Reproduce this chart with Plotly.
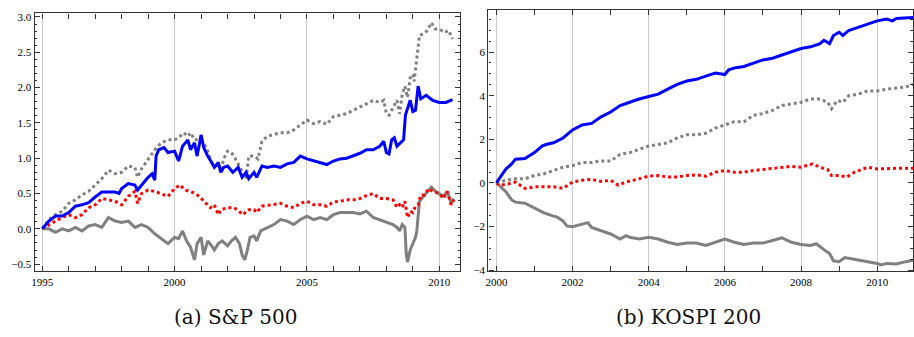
import plotly.graph_objects as go

# ---------------- S&P 500 (panel a) ----------------
sp_blue_x = [1995.0,1995.25,1995.5,1995.75,1996.0,1996.25,1996.5,1996.75,1997.0,1997.25,1997.5,1997.75,1997.9,1998.0,1998.25,1998.5,1998.6,1998.75,1999.0,1999.15,1999.25,1999.3,1999.4,1999.6,1999.75,2000.0,2000.15,2000.3,2000.5,2000.6,2000.75,2000.85,2001.0,2001.1,2001.25,2001.4,2001.5,2001.65,2001.75,2001.85,2002.0,2002.2,2002.4,2002.55,2002.7,2002.8,2003.0,2003.1,2003.3,2003.5,2003.75,2004.0,2004.25,2004.5,2004.75,2005.0,2005.25,2005.5,2005.75,2006.0,2006.25,2006.5,2006.75,2007.0,2007.25,2007.5,2007.75,2007.9,2008.0,2008.1,2008.2,2008.3,2008.4,2008.5,2008.65,2008.72,2008.8,2008.9,2009.0,2009.1,2009.2,2009.3,2009.5,2009.75,2010.0,2010.25,2010.5]
sp_blue_y = [0,0.11,0.18,0.18,0.23,0.32,0.34,0.37,0.45,0.52,0.52,0.52,0.50,0.57,0.64,0.62,0.55,0.62,0.73,0.78,0.69,1.03,1.12,1.15,1.08,1.10,0.96,1.17,1.26,1.12,1.22,1.03,1.33,1.15,1.03,0.94,0.87,0.94,0.80,0.87,0.89,0.80,0.87,0.73,0.80,0.71,0.80,0.73,0.89,0.87,0.89,0.87,0.92,0.94,1.03,0.99,0.96,0.94,0.91,0.96,0.99,1.00,1.03,1.07,1.12,1.12,1.17,1.24,1.08,1.06,1.26,1.29,1.17,1.21,1.26,1.61,1.70,1.82,1.66,1.68,2.02,1.84,1.89,1.82,1.79,1.79,1.83]

sp_gdot_x = [1995.0,1995.25,1995.5,1995.75,1996.0,1996.25,1996.5,1996.75,1997.0,1997.25,1997.5,1997.75,1998.0,1998.25,1998.5,1998.6,1998.75,1999.0,1999.25,1999.5,1999.75,2000.0,2000.15,2000.35,2000.5,2000.6,2000.75,2001.0,2001.2,2001.4,2001.6,2001.75,2001.85,2002.0,2002.15,2002.3,2002.5,2002.7,2002.8,2003.0,2003.15,2003.3,2003.5,2003.75,2004.0,2004.25,2004.5,2004.75,2005.0,2005.25,2005.5,2005.75,2006.0,2006.25,2006.5,2006.75,2007.0,2007.25,2007.5,2007.75,2007.9,2008.0,2008.1,2008.25,2008.4,2008.5,2008.6,2008.7,2008.8,2008.9,2009.0,2009.05,2009.15,2009.25,2009.4,2009.55,2009.7,2009.85,2010.0,2010.2,2010.35,2010.5]
sp_gdot_y = [0,0.13,0.20,0.25,0.36,0.41,0.48,0.53,0.62,0.71,0.83,0.78,0.80,0.89,0.87,0.73,0.85,0.99,1.12,1.22,1.26,1.26,1.29,1.36,1.31,1.36,1.26,1.26,1.15,0.94,0.89,0.80,0.99,1.10,1.08,0.99,0.85,0.71,1.03,1.03,0.99,1.24,1.31,1.33,1.36,1.36,1.40,1.47,1.54,1.49,1.52,1.48,1.59,1.61,1.63,1.68,1.72,1.77,1.82,1.79,1.82,1.63,1.61,1.72,1.82,1.63,1.91,2.02,1.86,2.14,2.19,2.09,2.46,2.74,2.76,2.81,2.92,2.83,2.83,2.78,2.81,2.69]

sp_red_x = [1995.0,1995.25,1995.5,1995.75,1996.0,1996.25,1996.5,1996.75,1997.0,1997.25,1997.5,1997.75,1998.0,1998.25,1998.5,1998.6,1998.75,1999.0,1999.25,1999.5,1999.75,2000.0,2000.2,2000.4,2000.6,2000.8,2001.0,2001.2,2001.35,2001.5,2001.65,2001.75,2002.0,2002.25,2002.5,2002.6,2002.7,2002.8,2003.0,2003.1,2003.3,2003.5,2003.75,2004.0,2004.25,2004.5,2004.75,2005.0,2005.25,2005.5,2005.75,2006.0,2006.25,2006.5,2006.75,2007.0,2007.25,2007.5,2007.75,2008.0,2008.25,2008.4,2008.5,2008.6,2008.7,2008.8,2008.9,2009.0,2009.1,2009.2,2009.3,2009.45,2009.6,2009.75,2010.0,2010.15,2010.3,2010.45,2010.55]
sp_red_y = [0,0.06,0.11,0.16,0.20,0.16,0.20,0.30,0.34,0.43,0.41,0.39,0.34,0.46,0.53,0.36,0.50,0.55,0.53,0.50,0.46,0.57,0.62,0.55,0.53,0.50,0.43,0.36,0.30,0.34,0.20,0.27,0.30,0.30,0.23,0.20,0.25,0.27,0.27,0.23,0.32,0.33,0.34,0.36,0.32,0.30,0.36,0.39,0.34,0.34,0.32,0.38,0.39,0.41,0.41,0.43,0.47,0.50,0.43,0.43,0.41,0.30,0.34,0.30,0.39,0.16,0.25,0.23,0.32,0.34,0.48,0.48,0.57,0.53,0.50,0.43,0.53,0.34,0.41]

sp_gray_x = [1995.0,1995.25,1995.5,1995.75,1996.0,1996.25,1996.5,1996.75,1997.0,1997.25,1997.5,1997.75,1998.0,1998.25,1998.5,1998.75,1999.0,1999.25,1999.5,1999.75,2000.0,2000.15,2000.3,2000.45,2000.6,2000.75,2000.85,2001.0,2001.1,2001.25,2001.4,2001.5,2001.65,2001.8,2002.0,2002.15,2002.3,2002.45,2002.55,2002.65,2002.75,2002.85,2003.0,2003.1,2003.25,2003.5,2003.75,2004.0,2004.25,2004.5,2004.75,2005.0,2005.25,2005.5,2005.75,2006.0,2006.25,2006.5,2006.75,2007.0,2007.25,2007.5,2007.75,2008.0,2008.25,2008.4,2008.5,2008.6,2008.7,2008.75,2008.8,2008.9,2009.0,2009.1,2009.15,2009.2,2009.25,2009.4,2009.55,2009.7,2009.85,2010.0,2010.15,2010.3,2010.45,2010.55]
sp_gray_y = [0,0.00,-0.05,0.00,-0.03,0.02,-0.03,0.04,0.06,0.02,0.16,0.11,0.09,0.11,0.02,0.06,0.02,-0.07,-0.14,-0.21,-0.12,-0.14,-0.03,-0.17,-0.26,-0.44,-0.21,-0.12,-0.37,-0.17,-0.24,-0.30,-0.21,-0.17,-0.24,-0.17,-0.12,-0.21,-0.37,-0.44,-0.30,-0.12,-0.10,-0.17,-0.03,0.02,0.06,0.13,0.11,0.06,0.13,0.18,0.13,0.16,0.13,0.20,0.23,0.23,0.23,0.21,0.25,0.16,0.13,0.09,0.06,0.02,-0.03,0.06,0.02,-0.35,-0.47,-0.30,-0.21,-0.12,-0.03,0.25,0.39,0.46,0.53,0.59,0.53,0.50,0.46,0.53,0.36,0.43]

# ---------------- KOSPI 200 (panel b) ----------------
ks_blue_x = [2000.0,2000.1,2000.25,2000.4,2000.5,2000.75,2001.0,2001.2,2001.3,2001.5,2001.75,2002.0,2002.25,2002.5,2002.75,2003.0,2003.25,2003.5,2003.75,2004.0,2004.25,2004.5,2004.75,2005.0,2005.25,2005.5,2005.75,2006.0,2006.1,2006.25,2006.5,2006.75,2007.0,2007.25,2007.5,2007.75,2008.0,2008.25,2008.5,2008.6,2008.75,2008.85,2009.0,2009.1,2009.25,2009.5,2009.75,2010.0,2010.25,2010.4,2010.5,2010.75,2010.94]
ks_blue_y = [0,0.27,0.64,0.87,1.09,1.12,1.39,1.69,1.76,1.84,2.06,2.43,2.66,2.73,3.03,3.25,3.55,3.70,3.85,3.96,4.07,4.30,4.52,4.67,4.75,4.90,5.04,4.97,5.19,5.27,5.34,5.49,5.64,5.72,5.87,6.01,6.16,6.24,6.39,6.54,6.39,6.76,6.91,6.76,6.99,7.13,7.28,7.43,7.51,7.43,7.54,7.58,7.58]

ks_gdot_x = [2000.0,2000.25,2000.5,2000.75,2001.0,2001.25,2001.5,2001.75,2002.0,2002.25,2002.5,2002.75,2003.0,2003.25,2003.5,2003.75,2004.0,2004.25,2004.5,2004.75,2005.0,2005.25,2005.5,2005.75,2006.0,2006.1,2006.25,2006.5,2006.75,2007.0,2007.25,2007.5,2007.75,2008.0,2008.25,2008.5,2008.7,2008.8,2008.95,2009.1,2009.25,2009.5,2009.75,2010.0,2010.25,2010.5,2010.75,2010.94]
ks_gdot_y = [0,0.12,0.19,0.19,0.34,0.42,0.57,0.72,0.79,0.94,0.94,1.01,1.01,1.31,1.39,1.54,1.69,1.76,1.84,2.06,2.21,2.21,2.28,2.51,2.66,2.70,2.81,2.81,3.10,3.18,3.33,3.55,3.63,3.70,3.85,3.85,3.70,3.40,3.78,3.70,4.00,4.07,4.22,4.22,4.30,4.34,4.40,4.52]

ks_red_x = [2000.0,2000.1,2000.25,2000.5,2000.75,2001.0,2001.25,2001.5,2001.75,2002.0,2002.25,2002.5,2002.75,2003.0,2003.2,2003.4,2003.75,2004.0,2004.25,2004.5,2004.75,2005.0,2005.25,2005.5,2005.75,2006.0,2006.25,2006.5,2006.75,2007.0,2007.25,2007.5,2007.75,2008.0,2008.3,2008.5,2008.7,2008.8,2009.0,2009.2,2009.4,2009.75,2010.0,2010.5,2010.94]
ks_red_y = [0,-0.10,-0.07,0.04,-0.25,-0.18,-0.18,-0.18,-0.25,0.04,0.12,0.16,0.07,0.12,-0.10,0.04,0.19,0.31,0.34,0.27,0.27,0.34,0.37,0.31,0.49,0.57,0.49,0.49,0.57,0.61,0.67,0.72,0.76,0.72,0.87,0.72,0.61,0.34,0.34,0.27,0.49,0.72,0.64,0.67,0.67]

ks_gray_x = [2000.0,2000.1,2000.25,2000.4,2000.5,2000.75,2001.0,2001.25,2001.5,2001.6,2001.75,2001.85,2002.0,2002.25,2002.4,2002.5,2002.75,2003.0,2003.25,2003.4,2003.5,2003.75,2004.0,2004.25,2004.5,2004.75,2005.0,2005.25,2005.5,2005.75,2006.0,2006.25,2006.5,2006.75,2007.0,2007.25,2007.5,2007.75,2008.0,2008.25,2008.4,2008.6,2008.75,2008.85,2009.0,2009.15,2009.3,2009.5,2009.75,2010.0,2010.1,2010.25,2010.5,2010.75,2010.94]
ks_gray_y = [0,-0.15,-0.40,-0.78,-0.88,-0.93,-1.15,-1.37,-1.52,-1.57,-1.75,-1.97,-2.01,-1.90,-1.82,-2.04,-2.19,-2.34,-2.57,-2.42,-2.49,-2.57,-2.49,-2.57,-2.72,-2.82,-2.76,-2.76,-2.87,-2.72,-2.57,-2.72,-2.82,-2.76,-2.76,-2.64,-2.52,-2.72,-2.82,-2.87,-2.79,-3.06,-3.24,-3.57,-3.61,-3.42,-3.46,-3.54,-3.61,-3.69,-3.76,-3.69,-3.72,-3.61,-3.54]

captions = ["(a) S&P 500", "(b) KOSPI 200"]

BLUE = "#0000FF"
RED = "#FF0000"
GRAY = "#808080"

fig = go.Figure()

def add(xs, ys, color, dash, xa, ya, width=3):
    fig.add_trace(go.Scatter(x=xs, y=ys, mode="lines", xaxis=xa, yaxis=ya,
                             line=dict(color=color, width=width, dash=dash),
                             showlegend=False, hoverinfo="skip"))

add(sp_gray_x, sp_gray_y, GRAY, "solid", "x", "y")
add(sp_red_x, sp_red_y, RED, "3px,3px", "x", "y")
add(sp_gdot_x, sp_gdot_y, GRAY, "3px,3px", "x", "y")
add(sp_blue_x, sp_blue_y, BLUE, "solid", "x", "y")

add(ks_gray_x, ks_gray_y, GRAY, "solid", "x2", "y2")
add(ks_red_x, ks_red_y, RED, "3px,3px", "x2", "y2")
add(ks_gdot_x, ks_gdot_y, GRAY, "3px,3px", "x2", "y2")
add(ks_blue_x, ks_blue_y, BLUE, "solid", "x2", "y2")

W, H = 914, 337
TICKFONT = dict(family="Liberation Serif", size=11, color="#000")
FRAME = "#333"

def xaxis(rng, dtick, tick0, px0, px1, anchor):
    return dict(domain=[px0 / W, px1 / W], range=rng, anchor=anchor,
                showline=True, linecolor=FRAME, linewidth=1.2, mirror="allticks",
                ticks="inside", ticklen=5, tickcolor=FRAME, tickwidth=1, tick0=tick0, dtick=dtick,
                tickformat="d", tickfont=TICKFONT,
                showgrid=True, gridcolor="#cccccc", gridwidth=1, zeroline=False,
                minor=dict(dtick=1, tick0=tick0, ticks="inside", ticklen=5,
                           tickcolor=FRAME, tickwidth=1, showgrid=False))

def yaxis(rng, dtick, mdtick, fmt, top_px, bot_px, anchor):
    return dict(domain=[1 - bot_px / H, 1 - top_px / H], range=rng, anchor=anchor,
                showline=True, linecolor=FRAME, linewidth=1.2, mirror="allticks",
                ticks="inside", ticklen=5, tickcolor=FRAME, tickwidth=1, tick0=0, dtick=dtick,
                tickformat=fmt, tickfont=TICKFONT, showgrid=False, zeroline=False,
                minor=dict(dtick=mdtick, tick0=0, ticks="inside", ticklen=2.5,
                           tickcolor=FRAME, tickwidth=1, showgrid=False))

fig.update_layout(
    width=W, height=H, margin=dict(l=0, r=0, t=0, b=0),
    paper_bgcolor="white", plot_bgcolor="white",
    xaxis=xaxis([1994.71, 2010.8], 5, 1995, 31.7, 459, "y"),
    yaxis=yaxis([-0.604, 3.05], 0.5, 0.1, ".1f", 10.7, 275, "x"),
    xaxis2=xaxis([1999.79, 2010.94], 2, 2000, 487, 913, "y2"),
    yaxis2=yaxis([-4.06, 7.95], 2, 0.5, "d", 6.7, 275, "x2"),
)

for txt, cx in zip(captions, [233, 688]):
    fig.add_annotation(text=txt, x=cx / W, y=1 - 322 / H, xref="paper", yref="paper",
                       showarrow=False, xanchor="center", yanchor="middle",
                       font=dict(family="DejaVu Serif", size=20, color="#111"))

fig.write_html("out.html")
